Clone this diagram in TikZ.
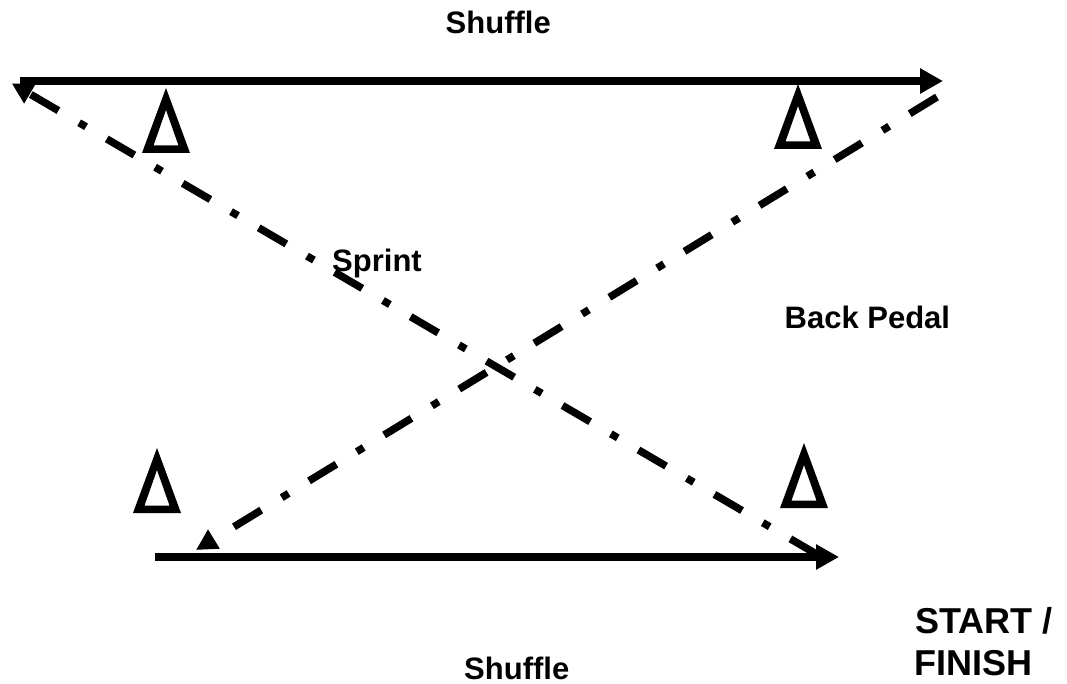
\documentclass[tikz,border=0pt]{standalone}
\usepackage{fontspec}
\setmainfont{Liberation Sans}
\usetikzlibrary{arrows.meta}
\begin{document}
\begin{tikzpicture}[x=1pt,y=-1pt,
  solidrun/.style={line width=7.5pt, line cap=butt, -{Triangle[length=23pt,width=24pt]}},
  dashrun/.style={line width=7.5pt, line cap=butt,
    dash pattern=on 32pt off 24pt on 8pt off 24pt,
    -{Triangle[length=21pt,width=21pt]}},
  lbl/.style={font=\fontsize{31}{37}\selectfont\bfseries, inner sep=0pt, anchor=base west},
  biglbl/.style={font=\fontsize{36}{42}\selectfont\bfseries, inner sep=0pt, anchor=base west},
  cone/.pic={\fill[even odd rule] (0,0) -- (-24,65) -- (24,65) -- cycle
                                  (0,22) -- (-12.5,57.5) -- (12.5,57.5) -- cycle;}
]
\useasboundingbox (0,0) rectangle (1067,684);

% end points of the runs
\coordinate (topL) at (20,81);
\coordinate (topR) at (943,81);
\coordinate (botL) at (155,557);
\coordinate (botR) at (839,557);
\coordinate (sprintA) at (818,555);
\coordinate (sprintB) at (11.7,83.3);
\coordinate (pedalA) at (937,97);
\coordinate (pedalB) at (196,550);

% cones
\pic at (166,88) {cone};
\pic at (798,84) {cone};
\pic at (157,448) {cone};
\pic at (804,443) {cone};

% shuffle runs
\draw[solidrun] (topL) -- (topR);
\draw[solidrun] (botL) -- (botR);

% sprint and back pedal
\draw[dashrun] (sprintA) -- (sprintB);
\draw[dashrun] (pedalA) -- (pedalB);

% labels
\node[lbl] (shuffleTop) at (445.5,33.5) {Shuffle};
\node[lbl] (sprint) at (332,272) {Sprint};
\node[lbl] (backpedal) at (784.5,328.3) {Back Pedal};
\node[lbl] (shuffleBot) at (464,679.5) {Shuffle};
\node[biglbl] (start) at (915.2,633.3) {START /};
\node[biglbl] (finish) at (914,675) {FINISH};
\end{tikzpicture}
\end{document}
